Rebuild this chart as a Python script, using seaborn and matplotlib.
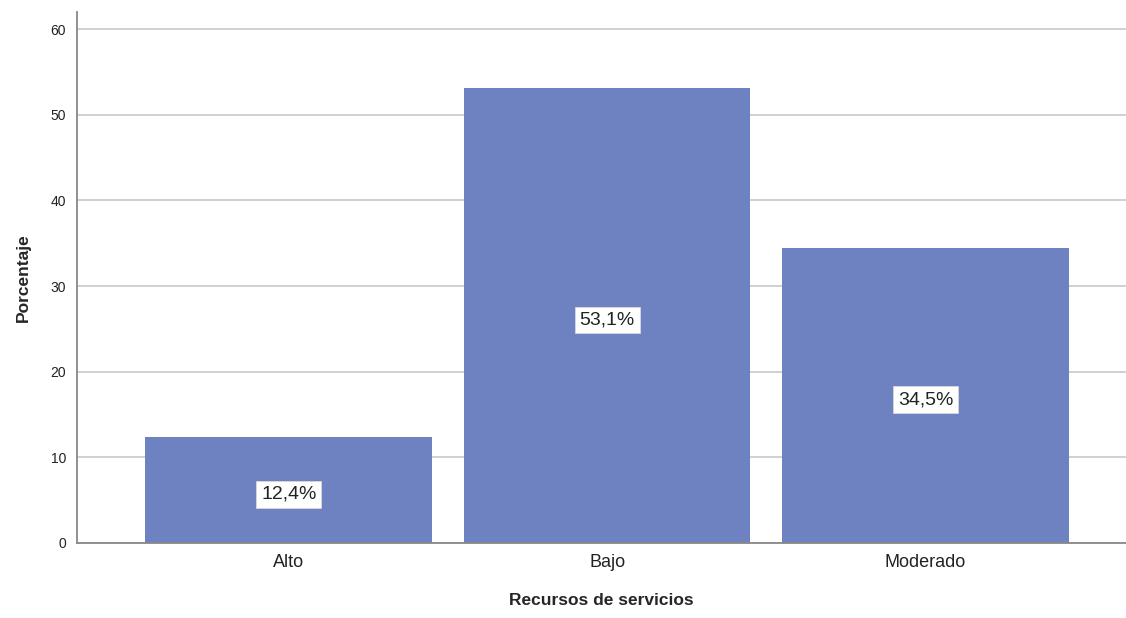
import pandas as pd
import matplotlib
matplotlib.use("Agg")
import matplotlib.pyplot as plt
import seaborn as sns

# Data
categories = ["Alto", "Bajo", "Moderado"]
percentages = [12.4, 53.1, 34.5]
bar_labels = ["12,4%", "53,1%", "34,5%"]

df = pd.DataFrame({"Recursos de servicios": categories, "Porcentaje": percentages})

sns.set_theme(style="white")
plt.rcParams["font.family"] = ["Liberation Sans", "DejaVu Sans"]

fig = plt.figure(figsize=(11.26, 6.18), dpi=100)
ax = fig.add_axes([0.0684, 0.1214, 0.9316, 0.8592])

sns.barplot(
    data=df,
    x="Recursos de servicios",
    y="Porcentaje",
    color="#6e81c1",
    saturation=1,
    width=0.9,
    linewidth=0,
    ax=ax,
)

ax.set_ylim(0, 62)
ax.set_xlim(-0.665, 2.63)
ax.set_yticks([0, 10, 20, 30, 40, 50, 60])
ax.yaxis.grid(True, color="#c8c8c8", linewidth=1.2)
ax.set_axisbelow(True)

for side in ["top", "right"]:
    ax.spines[side].set_visible(False)
for side in ["left", "bottom"]:
    ax.spines[side].set_color("#888888")
    ax.spines[side].set_linewidth(1.3)

ax.tick_params(axis="y", length=0, labelsize=10, colors="#222222", pad=8)
ax.tick_params(axis="x", length=0, labelsize=13, colors="#222222", pad=8)

ax.set_xlabel("Recursos de servicios", fontsize=12.5, fontweight="bold", labelpad=16)
ax.set_ylabel("Porcentaje", fontsize=12.5, fontweight="bold", labelpad=14)

# Percentage labels in white boxes near half bar height
for i, (val, lab) in enumerate(zip(percentages, bar_labels)):
    ax.text(
        i, val / 2 - 0.5, lab,
        ha="center", va="center", fontsize=14, color="#222222",
        bbox=dict(facecolor="white", edgecolor="#dddddd", linewidth=0.5, pad=3.5),
    )

fig.savefig("out.png", dpi=100)
